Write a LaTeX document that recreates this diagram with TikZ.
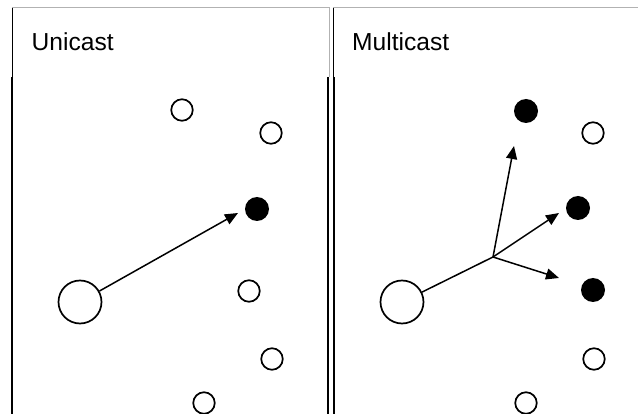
\documentclass[tikz,border=0pt]{standalone}
\usepackage{fontspec}
\setmainfont{Liberation Sans}
\usetikzlibrary{arrows.meta}
\begin{document}
\begin{tikzpicture}[x=1pt,y=-1pt,
  opennode/.style={circle,draw=black,line width=1.7pt,fill=white,inner sep=0pt,minimum size=#1},
  fullnode/.style={circle,fill=black,inner sep=0pt,minimum size=24pt},
  frameg/.style={draw=black!30,line width=1pt},
  framek/.style={draw=black,line width=1pt},
  framekk/.style={draw=black,line width=2pt},
  title/.style={anchor=base west,inner sep=0pt,font=\fontsize{24.6}{28}\selectfont},
  link/.style={draw=black,line width=1.5pt},
  arrowlink/.style={link,-{Triangle[length=13pt,width=11pt]}}]
\useasboundingbox (0,0) rectangle (638,414);
% frames
\draw[frameg] (12,8) -- (329,8) -- (329,77);
\draw[frameg] (333,8) -- (638,8);
\draw[framek] (12,8) -- (12,414);
\draw[framek] (333,8) -- (333,414);
\draw[framekk] (12,77) -- (12,414);
\draw[framekk] (328.3,77) -- (328.3,414);
\draw[framekk] (333.7,77) -- (333.7,414);
% titles
\node[title] (tu) at (31.5,51) {Unicast};
\node[title] (tm) at (352,51) {Multicast};
% unicast
\node[opennode=43pt] (us) at (80,302) {};
\node[opennode=21.5pt] (u1) at (182,110) {};
\node[opennode=21.5pt] (u2) at (271,133) {};
\node[fullnode] (ut) at (257,209) {};
\node[opennode=21.5pt] (u3) at (249,291) {};
\node[opennode=21.5pt] (u4) at (272,359) {};
\node[opennode=21.5pt] (u5) at (204,403) {};
\coordinate (utip) at (238,213);
\draw[arrowlink] (us) -- (utip);
% multicast
\node[opennode=43pt] (ms) at (402,302) {};
\node[fullnode] (mt1) at (526,111) {};
\node[opennode=21.5pt] (m1) at (593,133) {};
\node[fullnode] (mt2) at (578,208) {};
\node[fullnode] (mt3) at (593,290) {};
\node[opennode=21.5pt] (m2) at (594,359) {};
\node[opennode=21.5pt] (m3) at (526,403) {};
\coordinate (mb) at (493,257);
\coordinate (mtip1) at (514,146);
\coordinate (mtip2) at (559,213);
\coordinate (mtip3) at (559,278);
\draw[link] (ms) -- (mb);
\draw[arrowlink] (mb) -- (mtip1);
\draw[arrowlink] (mb) -- (mtip2);
\draw[arrowlink] (mb) -- (mtip3);
\end{tikzpicture}
\end{document}
